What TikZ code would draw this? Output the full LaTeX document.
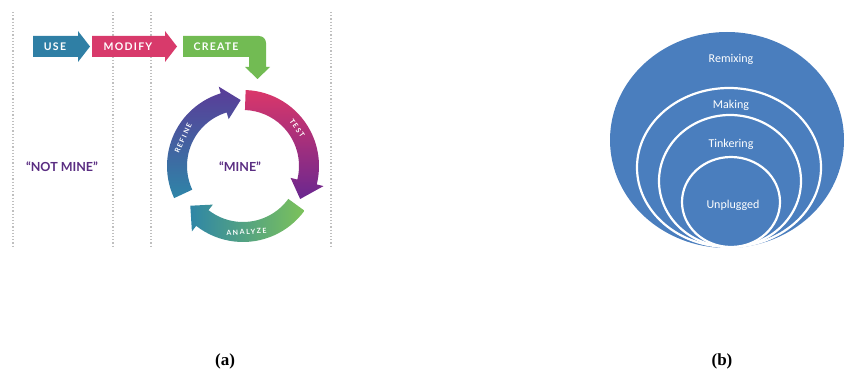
\documentclass[tikz,border=0pt]{standalone}
\usepackage{fontspec}
\setmainfont{Liberation Serif}
\newfontfamily\lblfont[LetterSpace=12]{Lato}
\newfontfamily\arcfont[LetterSpace=22]{Lato}
\newfontfamily\minefont{Lato}
\newfontfamily\calfont{Carlito}
\definecolor{usecol}{HTML}{2F7FA5}
\definecolor{modcol}{HTML}{D83A6B}
\definecolor{crecol}{HTML}{72BB53}
\definecolor{testtop}{HTML}{DA376A}
\definecolor{testbot}{HTML}{6A2790}
\definecolor{refbot}{HTML}{2E85A8}
\definecolor{reftop}{HTML}{5A3B98}
\definecolor{anaright}{HTML}{7CC25A}
\definecolor{analeft}{HTML}{2F86A6}
\definecolor{minecol}{HTML}{5A2D82}
\definecolor{ovalblue}{HTML}{4A7EBE}
% ring arrow: start angle, head base angle, tip angle
\newcommand{\ringarrow}[3]{(#1:76) arc[start angle=#1, end angle=#2, radius=76] -- (#2:83) -- (#3:66) -- (#2:49) -- (#2:56) arc[start angle=#2, end angle=#1, radius=56] -- cycle}
\begin{document}
\begin{tikzpicture}[x=1pt,y=1pt]
	\tikzstyle{sep} = [draw=black!25, dotted, line width=1.2pt]
	\tikzstyle{lbl} = [text=white, font={\lblfont\bfseries\fontsize{10.5}{12}\selectfont}, inner sep=0pt]
	\tikzstyle{arclbl} = [text=white, font={\arcfont\bfseries\fontsize{7}{8}\selectfont}, inner sep=0pt]
	\tikzstyle{mine} = [text=minecol, font={\minefont\bfseries\fontsize{12.5}{14}\selectfont}]
	\tikzstyle{oval} = [draw=white, line width=2.2pt, fill=ovalblue]
	\tikzstyle{ovaltext} = [text=white, font={\calfont\fontsize{12}{14}\selectfont}]
	\useasboundingbox (0,0) rectangle (846,-377);
	% (a) use - modify - create
	\draw[sep] (13,-12) -- (13,-247);
	\draw[sep] (113,-12) -- (113,-247);
	\draw[sep] (151,-12) -- (151,-247);
	\draw[sep] (331,-12) -- (331,-247);
	\fill[usecol] (33,-36) -- (78,-36) -- (78,-31) -- (90,-46.5) -- (78,-62) -- (78,-57) -- (33,-57) -- cycle;
	\fill[modcol] (92,-36) -- (165,-36) -- (165,-31) -- (177,-46.5) -- (165,-62) -- (165,-57) -- (92,-57) -- cycle;
	\fill[crecol] (183,-36) -- (259,-36) arc[start angle=90, end angle=0, radius=7] -- (266,-67) -- (270,-67) -- (257.5,-79) -- (245,-67) -- (249,-67) -- (249,-57) -- (183,-57) -- cycle;
	\node[lbl] (use) at (55,-46.5) {USE};
	\node[lbl] (modify) at (128,-46.5) {MODIFY};
	\node[lbl] (create) at (216,-46.5) {CREATE};
	\node[mine] (notmine) at (62,-167) {“NOT MINE”};
	\node[mine] (mine) at (240,-167) {“MINE”};
	\begin{scope}[shift={(243,-166)}]
		\shade[top color=testtop, bottom color=testbot] \ringarrow{88}{-14}{-30};
		\shade[left color=analeft, right color=anaright] \ringarrow{-36}{-128}{-143};
		\shade[bottom color=refbot, top color=reftop] \ringarrow{205}{107}{92};
		\node[arclbl, rotate=-55] (test) at (35:66) {TEST};
		\node[arclbl, rotate=3] (analyze) at (-87:66) {ANALYZE};
		\node[arclbl, rotate=65] (refine) at (155:66) {REFINE};
	\end{scope}
	% (b) nested ovals
	\fill[ovalblue] (727,-140) ellipse[x radius=117, y radius=108];
	\draw[oval] (729,-167.5) ellipse[x radius=92, y radius=79.5];
	\draw[oval] (730,-181) ellipse[x radius=71, y radius=66];
	\draw[oval] (731,-202) ellipse[x radius=49, y radius=45];
	\node[ovaltext] (remix) at (731,-59) {Remixing};
	\node[ovaltext] (making) at (731,-105) {Making};
	\node[ovaltext] (tinker) at (731,-144) {Tinkering};
	\node[ovaltext] (unplug) at (733,-205) {Unplugged};
	% captions
	\node[font={\bfseries\fontsize{17}{19}\selectfont}] (capa) at (225,-361) {(a)};
	\node[font={\bfseries\fontsize{17}{19}\selectfont}] (capb) at (722,-361) {(b)};
\end{tikzpicture}
\end{document}
